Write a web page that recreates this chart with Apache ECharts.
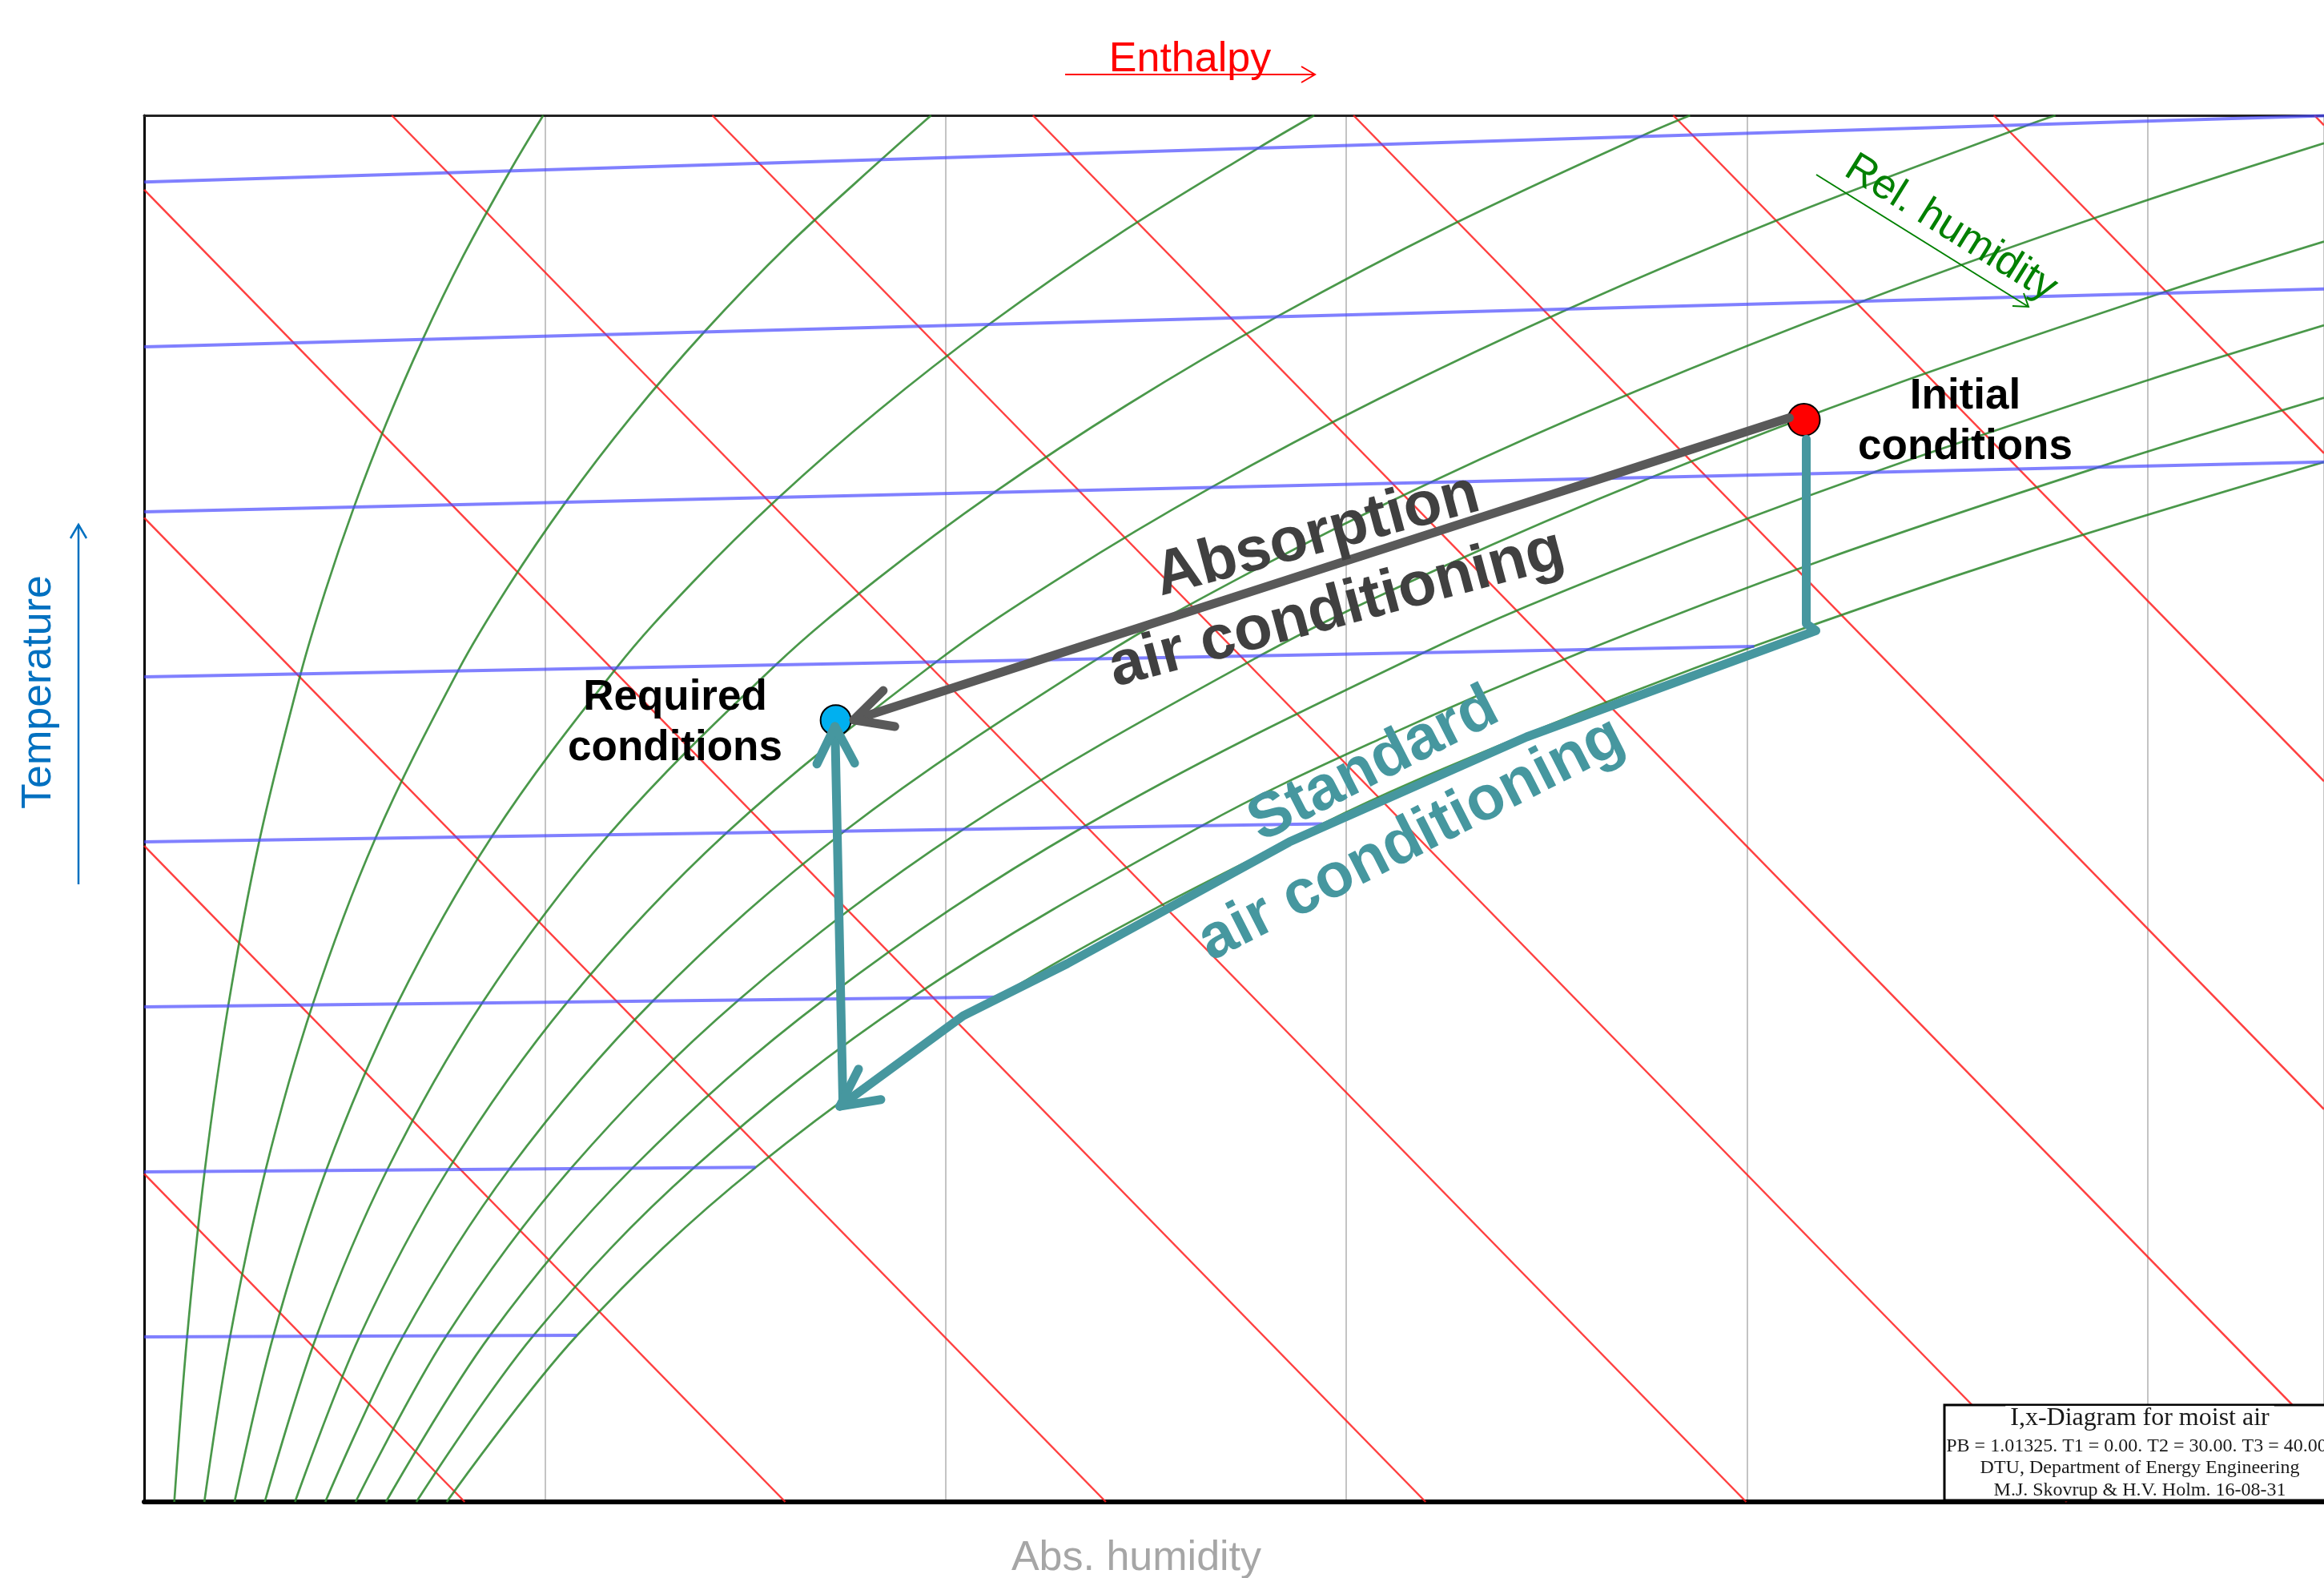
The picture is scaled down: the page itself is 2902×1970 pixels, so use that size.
<!DOCTYPE html>
<html>
<head>
<meta charset="utf-8">
<title>I,x-Diagram for moist air</title>
<script src="https://cdn.jsdelivr.net/npm/echarts@6/dist/echarts.min.js"></script>
<style>
html,body{margin:0;padding:0;background:#ffffff;}
#chart{width:2902px;height:1970px;}
</style>
</head>
<body>
<div id="chart"></div>
<script>
// x axis: absolute humidity (g/kg); y axis: Mollier ordinate (kJ/kg of dry air)
const absHumidityMax = 27.2;
const mollierMax = 42.27;
const absHumidityGridStep = 5;

// relative humidity curves (10 % ... 100 %), points [x, y]
const rhLevels = ['10%', '20%', '30%', '40%', '50%', '60%', '70%', '80%', '90%', '100%'];
const rh10 = [[0.376,0],[0.536,5.035],[0.755,10.074],[1.049,15.119],[1.439,20.174],[1.952,25.241],[2.262,27.781],[2.618,30.326],[3.021,32.878],[3.475,35.436],[3.986,38.003],[4.566,40.58],[4.98,42.27]];
const rh20 = [[0.751,0],[1.073,5.04],[1.512,10.088],[2.101,15.149],[2.885,20.227],[3.916,25.332],[4.541,27.897],[5.258,30.473],[6.071,33.062],[6.988,35.665],[8.023,38.285],[9.2,40.924],[9.82,42.27]];
const rh30 = [[1.128,0],[1.611,5.045],[2.27,10.102],[3.157,15.178],[4.338,20.281],[5.893,25.424],[6.837,28.015],[7.92,30.622],[9.151,33.248],[10.541,35.896],[12.113,38.57],[13.903,41.274],[14.6,42.27]];
const rh40 = [[1.505,0],[2.15,5.05],[3.031,10.116],[4.217,15.208],[5.797,20.336],[7.882,25.517],[9.149,28.133],[10.605,30.772],[12.261,33.436],[14.135,36.13],[16.256,38.859],[18.677,41.63],[19.29,42.27]];
const rh50 = [[1.882,0],[2.69,5.055],[3.793,10.131],[5.28,15.237],[7.264,20.39],[9.884,25.61],[11.479,28.252],[13.313,30.923],[15.402,33.626],[17.77,36.367],[20.454,39.152],[23.522,41.99],[23.85,42.27]];
const rh60 = [[2.26,0],[3.231,5.06],[4.557,10.145],[6.347,15.267],[8.737,20.445],[11.898,25.703],[13.826,28.372],[16.045,31.075],[18.574,33.818],[21.446,36.606],[24.707,39.448],[27.2,41.42]];
const rh70 = [[2.638,0],[3.772,5.065],[5.323,10.159],[7.417,15.297],[10.217,20.5],[13.925,25.798],[16.19,28.493],[18.8,31.229],[21.779,34.012],[25.165,36.848],[27.2,38.42]];
const rh80 = [[3.017,0],[4.315,5.07],[6.091,10.173],[8.491,15.327],[11.704,20.555],[15.966,25.892],[18.572,28.615],[21.579,31.384],[25.015,34.207],[27.2,35.87]];
const rh90 = [[3.396,0],[4.859,5.075],[6.86,10.188],[9.569,15.357],[13.198,20.611],[15.441,23.281],[18.019,25.988],[20.972,28.738],[24.382,31.54],[27.2,33.66]];
const rh100 = [[3.775,0],[5.403,5.08],[7.632,10.202],[10.65,15.387],[14.699,20.667],[17.204,23.355],[20.086,26.084],[23.39,28.861],[27.2,31.7]];

// isotherms (°C), each from x = 0 to the saturation curve / chart edge
const isothermTemps = [5, 10, 15, 20, 25, 30, 35, 40];
const isothermLines = [
  [[0,5.03],[5.40,5.08]],
  [[0,10.06],[7.63,10.20]],
  [[0,15.09],[10.65,15.39]],
  [[0,20.12],[14.70,20.67]],
  [[0,25.15],[20.09,26.08]],
  [[0,30.18],[27.2,31.70]],
  [[0,35.21],[27.2,36.98]],
  [[0,40.24],[27.2,42.26]]
];

// lines of constant enthalpy (kJ/kg)
const enthalpyLevels = [10, 20, 30, 40, 50, 60, 70, 80, 90, 100, 110];
const enthalpyLines = [
  [[0,10],[4.00,0]],
  [[0,20],[8.00,0]],
  [[0,30],[12.00,0]],
  [[0,40],[15.99,0]],
  [[3.09,42.27],[19.99,0]],
  [[7.09,42.27],[23.99,0]],
  [[11.09,42.27],[27.2,1.97]],
  [[15.09,42.27],[27.2,11.97]],
  [[19.08,42.27],[27.2,21.97]],
  [[23.08,42.27],[27.2,31.97]],
  [[27.08,42.27],[27.2,41.97]]
];

// process states and paths
const initialPoint = [20.71, 32.99];
const requiredPoint = [8.63, 23.83];
const absorptionPath = [[20.53,33.05],[8.854,23.84]];
const standardPath = [[20.74,32.4],[20.74,26.77],[20.86,26.56],[17.25,23.32],[14.29,20.12],[11.52,16.41],[10.22,14.82],[8.68,12.06]];
const reheatPath = [[8.72,12.1],[8.62,23.64]];

const boxLines = ['I,x-Diagram for moist air', 'PB = 1.01325. T1 = 0.00. T2 = 30.00. T3 = 40.00', 'DTU, Department of Energy Engineering', 'M.J. Skovrup & H.V. Holm. 16-08-31'];

const GRAY = '#595959';
const TEAL = '#46979f';
const SANS = '"Liberation Sans", Arial, Helvetica, sans-serif';
const SERIF = '"Liberation Serif", "Times New Roman", serif';

const chart = echarts.init(document.getElementById('chart'), null, {renderer: 'canvas', width: 2902, height: 1970});

const series = [];
enthalpyLines.forEach(function (seg, i) {
  series.push({
    name: 'h = ' + enthalpyLevels[i] + ' kJ/kg', type: 'line', data: seg,
    symbol: 'none', silent: true, z: 2,
    lineStyle: {color: '#ff1f1f', width: 2.5, opacity: 0.85}
  });
});
[rh10, rh20, rh30, rh40, rh50, rh60, rh70, rh80, rh90, rh100].forEach(function (curve, i) {
  series.push({
    name: 'RH ' + rhLevels[i], type: 'line', data: curve, smooth: 0.35,
    symbol: 'none', silent: true, z: 3,
    lineStyle: {color: '#2a862a', width: 2.7, opacity: 0.85}
  });
});
isothermLines.forEach(function (seg, i) {
  series.push({
    name: 't = ' + isothermTemps[i] + ' °C', type: 'line', data: seg,
    symbol: 'none', silent: true, z: 4,
    lineStyle: {color: '#4a4aff', width: 4, opacity: 0.7}
  });
});

series.push({
  name: 'Initial conditions', type: 'scatter', data: [initialPoint], z: 5,
  symbol: 'circle', symbolSize: 40,
  itemStyle: {color: '#ff0000', borderColor: '#000', borderWidth: 2, opacity: 1}
});
series.push({
  name: 'Required conditions', type: 'scatter', data: [requiredPoint], z: 5,
  symbol: 'circle', symbolSize: 38,
  itemStyle: {color: '#00b0f0', borderColor: '#000', borderWidth: 2, opacity: 1}
});

function pathSeries(name, data, color) {
  return {
    name: name, type: 'line', data: data, symbol: 'none', silent: true, z: 6,
    lineStyle: {color: color, width: 11, cap: 'round', join: 'round'}
  };
}
series.push(pathSeries('Absorption air conditioning', absorptionPath, GRAY));
series.push(pathSeries('Standard air conditioning', standardPath, TEAL));
series.push(pathSeries('Reheating', reheatPath, TEAL));

function headOf(path) {
  const a = path[path.length - 1], b = path[path.length - 2];
  return [a[0], a[1], b[0], b[1]];
}
function chevronSeries(name, data, color) {
  return {
    name: name, type: 'custom', z: 7, silent: true, clip: false,
    data: data,
    renderItem: function (params, api) {
      const tip = api.coord([api.value(0), api.value(1)]);
      const from = api.coord([api.value(2), api.value(3)]);
      let dx = from[0] - tip[0], dy = from[1] - tip[1];
      const len = Math.sqrt(dx * dx + dy * dy) || 1;
      dx /= len; dy /= len;
      const ang = 27 * Math.PI / 180, L = 52;
      const c = Math.cos(ang), s = Math.sin(ang);
      const p1 = [tip[0] + L * (dx * c - dy * s), tip[1] + L * (dx * s + dy * c)];
      const p2 = [tip[0] + L * (dx * c + dy * s), tip[1] + L * (-dx * s + dy * c)];
      return {
        type: 'polyline',
        shape: {points: [p1, tip, p2]},
        style: {stroke: color, lineWidth: 11, lineCap: 'round', lineJoin: 'round', fill: 'none'}
      };
    }
  };
}
series.push(chevronSeries('Absorption arrow', [headOf(absorptionPath)], GRAY));
series.push(chevronSeries('Standard arrows', [headOf(standardPath), headOf(reheatPath)], TEAL));

function txt(text, x, y, font, color, extra) {
  const el = {
    type: 'text', x: x, y: y, z: 100, silent: true,
    style: Object.assign({text: text, x: 0, y: 0, font: font, fill: color, textAlign: 'center', textVerticalAlign: 'middle'}, (extra && extra.style) || {})
  };
  if (extra && extra.rotation !== undefined) el.rotation = extra.rotation;
  return el;
}
function pl(points, color, width) {
  return {type: 'polyline', z: 100, silent: true, shape: {points: points}, style: {stroke: color, lineWidth: width, fill: 'none', lineCap: 'butt', lineJoin: 'miter'}};
}

const graphic = [
  // axis captions
  txt('Enthalpy', 1486, 75, '52px ' + SANS, '#ff0000'),
  pl([[1330, 93], [1642, 93]], '#ff0000', 2),
  pl([[1625, 83], [1642, 93], [1625, 103]], '#ff0000', 2),
  txt('Temperature', 49, 864, '52px ' + SANS, '#0070c0', {rotation: Math.PI / 2}),
  pl([[98, 1104], [98, 655]], '#0070c0', 2.5),
  pl([[88, 672], [98, 655], [108, 672]], '#0070c0', 2.5),
  txt('Abs. humidity', 1419, 1946, '52px ' + SANS, '#a6a6a6'),
  txt('Rel. humidity', 2436, 285, '52px ' + SANS, '#008000', {rotation: -0.557}),
  pl([[2268, 218], [2533, 383]], '#008000', 2),
  pl([[2513, 382], [2533, 383], [2527, 366]], '#008000', 2),
  // state labels
  txt('Initial\nconditions', 2454, 527, 'bold 53px ' + SANS, '#000000', {style: {lineHeight: 63}}),
  txt('Required\nconditions', 843, 903, 'bold 53px ' + SANS, '#000000', {style: {lineHeight: 63}}),
  // process labels
  txt('Absorption\nair conditioning', 1657, 715, 'bold 78px ' + SANS, '#404040', {rotation: 15 * Math.PI / 180, style: {lineHeight: 95}}),
  txt('Standard\nair conditioning', 1739, 1002, 'bold 78px ' + SANS, TEAL, {rotation: 27 * Math.PI / 180, style: {lineHeight: 104}}),
  // title box
  {type: 'rect', z: 110, silent: true, shape: {x: 2428, y: 1754, width: 520, height: 119}, style: {fill: '#ffffff', stroke: '#000000', lineWidth: 3}},
  txt(boxLines[0], 2672, 1771, '32px ' + SERIF, '#1a1a1a', {style: {backgroundColor: '#ffffff', padding: [0, 6]}}),
  txt(boxLines[1], 2668, 1806, '24px ' + SERIF, '#1a1a1a'),
  txt(boxLines[2], 2672, 1833, '24px ' + SERIF, '#1a1a1a'),
  txt(boxLines[3], 2672, 1861, '24px ' + SERIF, '#1a1a1a')
];
// make title box texts sit above the rectangle
for (let i = graphic.length - 4; i < graphic.length; i++) graphic[i].z = 120;

chart.setOption({
  animation: false,
  backgroundColor: '#ffffff',
  grid: {left: 180, right: 0, top: 144, bottom: 95, containLabel: false, outerBoundsMode: 'none'},
  xAxis: [
    {
      type: 'value', min: 0, max: absHumidityMax, interval: absHumidityGridStep, position: 'bottom',
      axisLine: {show: true, onZero: false, lineStyle: {color: '#000000', width: 6}},
      axisTick: {show: false}, axisLabel: {show: false},
      splitLine: {show: true, lineStyle: {color: '#c4c4c4', width: 2}}
    },
    {
      type: 'value', min: 0, max: absHumidityMax, position: 'top',
      axisLine: {show: true, onZero: false, lineStyle: {color: '#222222', width: 3}},
      axisTick: {show: false}, axisLabel: {show: false}, splitLine: {show: false}
    }
  ],
  yAxis: {
    type: 'value', min: 0, max: mollierMax,
    axisLine: {show: true, onZero: false, lineStyle: {color: '#000000', width: 3}},
    axisTick: {show: false}, axisLabel: {show: false}, splitLine: {show: false}
  },
  tooltip: {show: false},
  legend: {show: false},
  series: series,
  graphic: graphic
});
</script>
</body>
</html>
